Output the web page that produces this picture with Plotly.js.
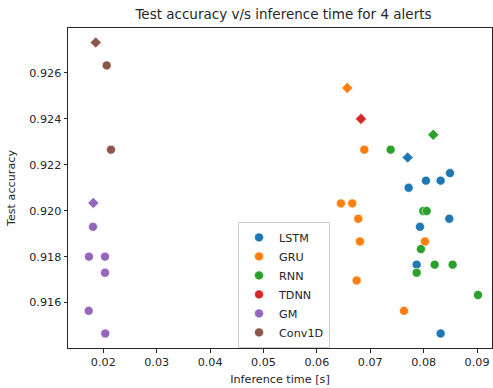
<!DOCTYPE html>
<html>
<head>
<meta charset="utf-8">
<script src="https://cdn.plot.ly/plotly-3.0.1.min.js"></script>
<style>html,body{margin:0;padding:0;background:#fff;}#chart{width:493px;height:388px;}</style>
</head>
<body>
<div id="chart"></div>
<script>
// Model families and their colours
const models = ["LSTM", "GRU", "RNN", "TDNN", "GM", "Conv1D"];
const colors = ["#1f77b4", "#ff7f0e", "#2ca02c", "#d62728", "#9467bd", "#8c564b"];

// Individual runs: inference time [s] and test accuracy
const lstmTime = [0.08493, 0.08043, 0.08318, 0.07719, 0.08480, 0.07931, 0.07869, 0.08318];
const lstmAcc  = [0.92164, 0.92131, 0.92131, 0.92100, 0.91965, 0.91930, 0.91765, 0.91465];
const gruTime  = [0.06888, 0.06451, 0.06663, 0.06775, 0.06807, 0.08024, 0.06745, 0.07631];
const gruAcc   = [0.92266, 0.92032, 0.92032, 0.91965, 0.91866, 0.91866, 0.91696, 0.91564];
const rnnTime  = [0.07382, 0.07993, 0.08056, 0.07949, 0.08206, 0.08543, 0.07869, 0.09017];
const rnnAcc   = [0.92266, 0.91999, 0.91999, 0.91833, 0.91765, 0.91765, 0.91730, 0.91633];
const tdnnTime = [];
const tdnnAcc  = [];
const gmTime   = [0.01807, 0.01732, 0.02032, 0.02032, 0.01727, 0.02037];
const gmAcc    = [0.91930, 0.91800, 0.91800, 0.91730, 0.91564, 0.91465];
const convTime = [0.02064, 0.02144];
const convAcc  = [0.92633, 0.92266];

// Best configuration of each family (diamonds)
const bestTime = [0.07700, 0.06569, 0.08180, 0.06826, 0.01813, 0.01858];
const bestAcc  = [0.92232, 0.92535, 0.92331, 0.92400, 0.92034, 0.92733];

const xTicks = [0.02, 0.03, 0.04, 0.05, 0.06, 0.07, 0.08, 0.09];
const yTicks = [0.916, 0.918, 0.920, 0.922, 0.924, 0.926];

const runTimes = [lstmTime, gruTime, rnnTime, tdnnTime, gmTime, convTime];
const runAccs  = [lstmAcc, gruAcc, rnnAcc, tdnnAcc, gmAcc, convAcc];

const traces = [];
models.forEach((m, i) => {
  traces.push({
    type: "scatter", mode: "markers", name: m, legendgroup: m,
    x: runTimes[i].length ? runTimes[i] : [null],
    y: runAccs[i].length ? runAccs[i] : [null],
    marker: {symbol: "circle", size: 9, color: colors[i], line: {color: "#ffffff", width: 0.6}},
    hoverinfo: "x+y+name"
  });
});
models.forEach((m, i) => {
  traces.push({
    type: "scatter", mode: "markers", name: m, legendgroup: m, showlegend: false,
    x: [bestTime[i]], y: [bestAcc[i]],
    marker: {symbol: "diamond", size: 8.5, color: colors[i], line: {color: "#ffffff", width: 0.6}},
    hoverinfo: "x+y+name"
  });
});

const font = {family: "DejaVu Sans, sans-serif", size: 11.2, color: "#262626"};
const layout = {
  width: 493, height: 388,
  margin: {l: 68, r: 1, t: 28, b: 40, autoexpand: false},
  paper_bgcolor: "#ffffff", plot_bgcolor: "#ffffff",
  font: font,
  title: {text: "Test accuracy v/s inference time for 4 alerts", x: 0.575, xanchor: "center", y: 0.962, yanchor: "middle",
          font: {family: "DejaVu Sans, sans-serif", size: 13.5, color: "#262626"}},
  xaxis: {
    range: [0.01339, 0.0928], tickvals: xTicks, ticktext: xTicks.map(v => v.toFixed(2)),
    showgrid: false, zeroline: false, showline: true, linecolor: "#262626", linewidth: 1, mirror: true,
    ticks: "outside", ticklen: 3.5, tickcolor: "#262626", tickfont: font,
    title: {text: "Inference time [s]", font: font, standoff: 7}
  },
  yaxis: {
    range: [0.91402, 0.92796], tickvals: yTicks, ticktext: yTicks.map(v => v.toFixed(3)),
    showgrid: false, zeroline: false, showline: true, linecolor: "#262626", linewidth: 1, mirror: true,
    ticks: "outside", ticklen: 3.5, tickcolor: "#262626", tickfont: font,
    title: {text: "Test accuracy", font: font, standoff: 11}
  },
  legend: {
    x: 0.401, y: 0.394, xanchor: "left", yanchor: "top",
    bgcolor: "rgba(255,255,255,0.8)", bordercolor: "#d0d0d0", borderwidth: 1,
    font: font, itemclick: false, tracegroupgap: 0
  },
  showlegend: true
};

Plotly.newPlot("chart", traces, layout, {displayModeBar: false, staticPlot: true});
</script>
</body>
</html>
